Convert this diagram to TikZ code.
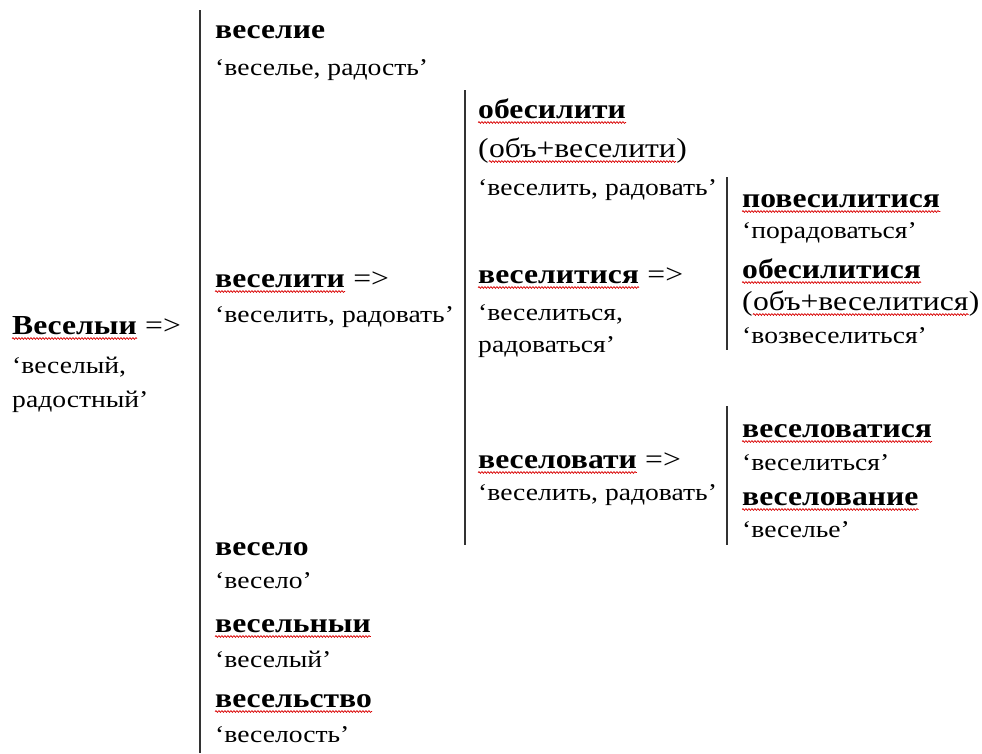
\documentclass[tikz,border=0pt]{standalone}
\usepackage{fontspec}
\setmainfont{Liberation Serif}[FakeStretch=1.15]
\usetikzlibrary{decorations.pathmorphing}
\newcommand\bsz{\fontsize{27.5}{32}\selectfont}
\newcommand\gsz{\fontsize{24}{28}\selectfont}
\tikzset{
  lemma/.style={anchor=base west, inner sep=0pt, font=\bsz\bfseries},
  plain/.style={anchor=base west, inner sep=0pt, font=\bsz},
  gloss/.style={anchor=base west, inner sep=0pt, font=\gsz},
  sep/.style={line width=1.3pt, draw=black!80},
  squig/.style={draw=red!85!black, line width=0.7pt, decorate,
    decoration={snake, amplitude=0.9pt, segment length=3pt}}
}
\newcommand\squigunder[1]{\draw[squig] ([yshift=-4.5pt]#1.base west) -- ([yshift=-4.5pt]#1.base east);}
\begin{document}
\begin{tikzpicture}[x=1pt,y=-1pt]
\useasboundingbox[fill=white] (0,0) rectangle (982,753);
% separators
\coordinate (s1t) at (200,10);  \coordinate (s1b) at (200,753);
\coordinate (s2t) at (465,90);  \coordinate (s2b) at (465,545);
\coordinate (s3t) at (727,177); \coordinate (s3b) at (727,350);
\coordinate (s4t) at (727,406); \coordinate (s4b) at (727,545);
\draw[sep] (s1t) -- (s1b);
\draw[sep] (s2t) -- (s2b);
\draw[sep] (s3t) -- (s3b);
\draw[sep] (s4t) -- (s4b);
% column 1
\node[lemma] (w0) at (12,334) {Веселыи};
\node[plain] (a0) at ([xshift=8pt]w0.base east) {=>};
\node[gloss] (g0a) at (12,373) {‘веселый,};
\node[gloss] (g0b) at (12,407) {радостный’};
% column 2
\node[lemma] (w1) at (215,38) {веселие};
\node[gloss] (g1) at (215,75) {‘веселье, радость’};
\node[lemma] (w2) at (215,287) {веселити};
\node[plain] (a2) at ([xshift=8pt]w2.base east) {=>};
\node[gloss] (g2) at (215,322) {‘веселить, радовать’};
\node[lemma] (w3) at (215,555) {весело};
\node[gloss] (g3) at (215,588) {‘весело’};
\node[lemma] (w4) at (215,632) {весельныи};
\node[gloss] (g4) at (215,667) {‘веселый’};
\node[lemma] (w5) at (215,707) {весельство};
\node[gloss] (g5) at (215,742) {‘веселость’};
% column 3
\node[lemma] (w6) at (478,118) {обесилити};
\node[plain] (p6a) at (478,157) {(};
\node[plain] (w6b) at (p6a.base east) {объ+веселити};
\node[plain] (p6b) at (w6b.base east) {)};
\node[gloss] (g6) at (478,195) {‘веселить, радовать’};
\node[lemma] (w7) at (478,283) {веселитися};
\node[plain] (a7) at ([xshift=8pt]w7.base east) {=>};
\node[gloss] (g7a) at (478,320) {‘веселиться,};
\node[gloss] (g7b) at (478,352) {радоваться’};
\node[lemma] (w8) at (478,468) {веселовати};
\node[plain] (a8) at ([xshift=8pt]w8.base east) {=>};
\node[gloss] (g8) at (478,500) {‘веселить, радовать’};
% column 4
\node[lemma] (w9) at (742,207) {повесилитися};
\node[gloss] (g9) at (742,238) {‘порадоваться’};
\node[lemma] (w10) at (742,278) {обесилитися};
\node[plain] (p10a) at (742,310) {(};
\node[plain] (w10b) at (p10a.base east) {объ+веселитися};
\node[plain] (p10b) at (w10b.base east) {)};
\node[gloss] (g10) at (742,343) {‘возвеселиться’};
\node[lemma] (w11) at (742,437) {веселоватися};
\node[gloss] (g11) at (742,470) {‘веселиться’};
\node[lemma] (w12) at (742,505) {веселование};
\node[gloss] (g12) at (742,537) {‘веселье’};
% spell-check squiggles
\squigunder{w0}\squigunder{w2}\squigunder{w4}\squigunder{w5}
\squigunder{w6}\squigunder{w6b}\squigunder{w7}\squigunder{w8}
\squigunder{w9}\squigunder{w10}\squigunder{w10b}\squigunder{w11}\squigunder{w12}
\end{tikzpicture}
\end{document}
